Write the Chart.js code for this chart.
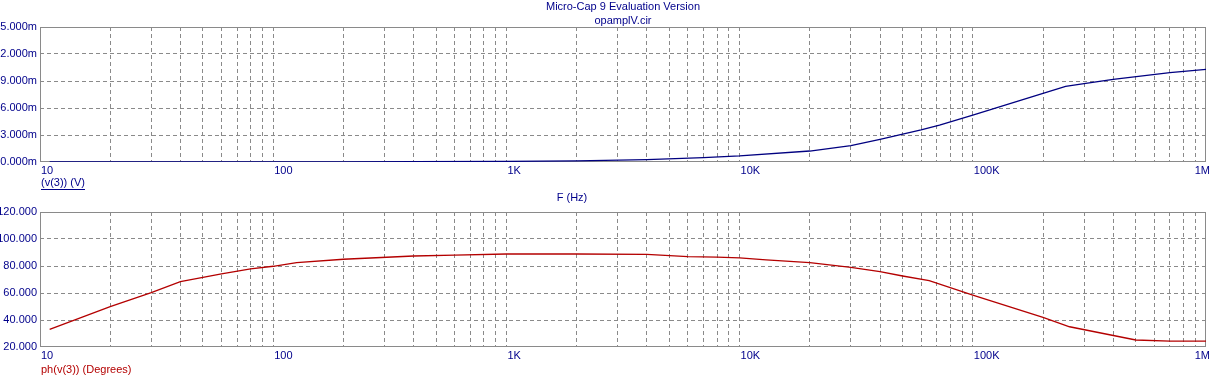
<!DOCTYPE html>
<html>
<head>
<meta charset="utf-8">
<title>opamplV.cir</title>
<script src="https://cdn.jsdelivr.net/npm/chart.js@4/dist/chart.umd.min.js"></script>
<style>
    html, body { margin: 0; padding: 0; background: #fff; }
    #wrap { position: relative; width: 1211px; height: 378px; overflow: hidden; background: #fff; }
    .box { position: absolute; left: 0; width: 1211px; }
    #topBox { top: 0; height: 190px; }
    #botBox { top: 190px; height: 188px; }
</style>
</head>
<body>
<div id="wrap">
    <div class="box" id="topBox"><canvas id="magChart"></canvas></div>
    <div class="box" id="botBox"><canvas id="phaseChart"></canvas></div>
</div>
<script>
// ==========================================
// Data
// ==========================================
const magFreq = [11, 20, 40, 100, 200, 400, 1000, 2000, 4000, 7000, 10000, 20000, 30000, 40000, 60000, 72000, 100000, 200000, 250000, 300000, 400000, 700000, 1000000];
const magMilliV = [0.001, 0.001, 0.003, 0.007, 0.013, 0.027, 0.067, 0.13, 0.27, 0.48, 0.67, 1.22, 1.81, 2.52, 3.56, 4.1, 5.2, 7.63, 8.4, 8.7, 9.19, 9.93, 10.3];

const phaseFreq = [11, 20, 30, 40, 60, 80, 100, 126, 200, 400, 600, 1000, 2000, 4000, 6000, 8000, 10000, 13000, 20000, 30000, 40000, 50000, 65000, 100000, 200000, 260000, 500000, 700000, 1000000];
const phaseDeg = [33.1, 49.9, 60.2, 68.4, 74.1, 77.8, 79.8, 82.5, 85.0, 87.4, 88.1, 88.9, 88.9, 88.6, 87.0, 86.5, 86.0, 84.5, 82.5, 79.0, 75.8, 72.6, 69.1, 58.5, 42.0, 35.0, 25.2, 24.4, 24.4];

// tick labels (as printed on the plot, clipped on the left)
const xTickValues = [10, 100, 1000, 10000, 100000, 1000000];
const xTickLabels = ['10', '100', '1K', '10K', '100K', '1M'];
const magTickLabels = ['0.000m', '3.000m', '6.000m', '9.000m', '2.000m', '5.000m'];
const phaseTickLabels = ['20.000', '40.000', '60.000', '80.000', '100.000', '120.000'];
const gridMultipliers = [1, 2, 3, 4, 5, 6, 7, 8, 9];

const FONT = '11px "Liberation Sans", Arial, sans-serif';
const BLUE = '#00008b';
const RED = '#b40000';
const GRID = '#8a8a8a';

// ==========================================
// Frame + text plugin
// ==========================================
function decor(cfg) {
    return {
        id: 'decor',
        beforeDatasetsDraw(chart) {
            const { ctx, chartArea: a } = chart;
            ctx.save();
            ctx.strokeStyle = GRID;
            ctx.lineWidth = 1;
            ctx.setLineDash([]);
            ctx.strokeRect(a.left + 0.5, a.top + 0.5, a.right - a.left - 1, a.bottom - a.top - 1);
            ctx.restore();
        },
        afterDraw(chart) {
            const { ctx, chartArea: a } = chart;
            const xs = chart.scales.x;
            ctx.save();
            ctx.font = FONT;
            ctx.textBaseline = 'middle';

            // x tick labels, left aligned at the tick, kept inside the canvas
            ctx.fillStyle = BLUE;
            ctx.textAlign = 'left';
            xTickValues.forEach((v, i) => {
                const w = ctx.measureText(xTickLabels[i]).width;
                let x = xs.getPixelForValue(v) + 1;
                if (x + w > chart.width - 1) x = chart.width - 1 - w;
                ctx.fillText(xTickLabels[i], x, a.bottom + 9);
            });

            // trace caption under the axis
            ctx.fillStyle = cfg.captionColor;
            ctx.fillText(cfg.caption, a.left + 1, a.bottom + cfg.captionDy);
            if (cfg.underline) {
                const w = ctx.measureText(cfg.caption).width;
                ctx.strokeStyle = cfg.captionColor;
                ctx.lineWidth = 1;
                ctx.beginPath();
                ctx.moveTo(a.left + 1, a.bottom + cfg.captionDy + 6.5);
                ctx.lineTo(a.left + 1 + w, a.bottom + cfg.captionDy + 6.5);
                ctx.stroke();
            }

            // centred header lines
            ctx.fillStyle = BLUE;
            ctx.textAlign = 'center';
            (cfg.header || []).forEach(h => {
                ctx.fillText(h.text, h.cx != null ? h.cx : (a.left + a.right) / 2, h.y);
            });
            ctx.restore();
        }
    };
}

function makeChart(canvasId, freq, values, color, yMin, yMax, yLabels, bottomPad, decorCfg) {
    const points = freq.map((f, i) => ({ x: f, y: values[i] }));
    return new Chart(document.getElementById(canvasId), {
        type: 'line',
        data: {
            datasets: [{
                data: points,
                borderColor: color,
                borderWidth: 1.3,
                pointRadius: 0,
                tension: 0,
                fill: false
            }]
        },
        options: {
            responsive: true,
            maintainAspectRatio: false,
            animation: false,
            events: [],
            layout: { padding: { top: decorCfg.top, right: 5, left: 0, bottom: 0 } },
            plugins: { legend: { display: false }, tooltip: { enabled: false }, title: { display: false } },
            scales: {
                x: {
                    type: 'logarithmic',
                    min: 10,
                    max: 1000000,
                    afterBuildTicks(scale) {
                        const ticks = [];
                        for (let d = 10; d < 1000000; d *= 10) {
                            gridMultipliers.forEach(m => ticks.push({ value: d * m }));
                        }
                        ticks.push({ value: 1000000 });
                        scale.ticks = ticks;
                    },
                    afterFit(scale) { scale.height = bottomPad; },
                    ticks: { display: false },
                    border: { display: false },
                    grid: {
                        drawTicks: false,
                        color: (c) => (c.tick && (c.tick.value === 10 || c.tick.value === 1000000)) ? 'rgba(0,0,0,0)' : GRID,
                        lineWidth: 1,
                        tickBorderDash: [4, 3]
                    }
                },
                y: {
                    min: yMin,
                    max: yMax,
                    afterFit(scale) { scale.width = 40; },
                    ticks: {
                        stepSize: (yMax - yMin) / 5,
                        padding: 3,
                        color: BLUE,
                        font: { family: '"Liberation Sans", Arial, sans-serif', size: 11 },
                        callback: (v, i) => yLabels[i]
                    },
                    border: { display: false, dash: [4, 3] },
                    grid: {
                        drawTicks: false,
                        color: (c) => (c.index === 0 || c.index === 5) ? 'rgba(0,0,0,0)' : GRID,
                        lineWidth: 1
                    }
                }
            }
        },
        plugins: [decor(decorCfg)]
    });
}

// dashed grid for every scale
Chart.defaults.scale.border.dash = [4, 3];

makeChart('magChart', magFreq, magMilliV, '#000080', 0, 15, magTickLabels, 28, {
    top: 27,
    caption: '(v(3)) (V)',
    captionColor: BLUE,
    captionDy: 21,
    underline: true,
    header: [
        { text: 'Micro-Cap 9 Evaluation Version', y: 7 },
        { text: 'opamplV.cir', y: 21 }
    ]
});

makeChart('phaseChart', phaseFreq, phaseDeg, RED, 20, 120, phaseTickLabels, 31, {
    top: 22,
    caption: 'ph(v(3)) (Degrees)',
    captionColor: RED,
    captionDy: 23,
    underline: false,
    header: [
        { text: 'F (Hz)', y: 8, cx: 572 }
    ]
});
</script>
</body>
</html>
